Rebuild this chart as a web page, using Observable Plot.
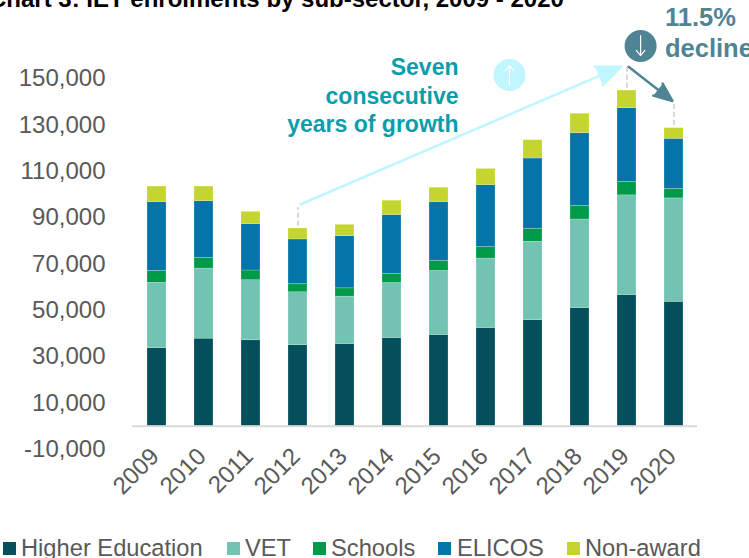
<!DOCTYPE html>
<html><head><meta charset="utf-8">
<script src="https://cdn.jsdelivr.net/npm/d3@7"></script>
<script src="https://cdn.jsdelivr.net/npm/@observablehq/plot@0.6"></script>
<style>
html,body{margin:0;padding:0;background:#fff;overflow:hidden;width:749px;height:558px;font-family:"Liberation Sans",Arial,sans-serif}
#chart{position:absolute;left:0;top:0}
#title{position:absolute;left:-11px;top:-13px;font-size:24px;font-weight:bold;color:#000;white-space:nowrap;line-height:24px}
.lg{position:absolute;top:535px;font-size:23.7px;color:#595959;line-height:27px;white-space:nowrap}
.sw{position:absolute;top:542px;width:13px;height:13px}
</style></head><body>
<div id="title">Chart 3: IET enrolments by sub-sector, 2009 - 2020</div>
<div id="chart"></div>
<div id="legend"></div>
<script>
const years = ["2009","2010","2011","2012","2013","2014","2015","2016","2017","2018","2019","2020"];
const seriesNames = ["Higher Education","VET","Schools","ELICOS","Non-award"];
const seriesColors = ["#034F5B","#72C3B2","#009A4A","#0575A9","#C4D52F"];
const higherEducation = [33700,37800,37100,35000,35500,38100,39400,42400,45800,51000,56600,53700];
const vet = [28200,30200,25900,22800,20400,23700,27600,29900,33800,38200,43000,44600];
const schools = [5100,4700,4200,3500,3600,4000,4400,5000,5600,5800,5800,4100];
const elicos = [29700,24400,20000,19300,22500,25300,25300,26700,30300,31400,31800,21600];
const nonAward = [6700,6300,5300,4700,4900,6200,6200,7000,7900,8400,7600,4600];
const yTicks = [-10000,10000,30000,50000,70000,90000,110000,130000,150000];
const legendTextX = [21,245,331,457,585];
const legendSwatchX = [3,227,313,438,567];

const columns = [higherEducation,vet,schools,elicos,nonAward];
const rows = [];
seriesNames.forEach((s,i)=>years.forEach((y,j)=>rows.push({year:y,series:s,value:columns[i][j]})));

const font = '"Liberation Sans",Arial,sans-serif';
const grey = "#D9D9D9", teal = "#4F8494", cyan = "#BFF6FF", growth = "#0A9DAA";

const plot = Plot.plot({
  width:749, height:525,
  marginLeft:132, marginRight:52, marginTop:78, marginBottom:76,
  style:{fontFamily:font, background:"transparent", overflow:"visible"},
  x:{domain:years, paddingInner:0.6, paddingOuter:0.3, label:null},
  y:{domain:[-10000,150000], label:null},
  color:{domain:seriesNames, range:seriesColors},
  marks:[
    Plot.axisY({ticks:yTicks, tickSize:0, tickPadding:27, fontSize:24, fill:"#595959", label:null,
      tickFormat:d=>d.toLocaleString("en-US")}),
    Plot.axisX({anchor:"bottom", tickSize:0, tickRotate:-45, fontSize:24, fill:"#595959", label:null, tickPadding:3, dx:-2}),
    Plot.barY(rows,{x:"year",y:"value",fill:"series",stroke:"#ffffff",strokeOpacity:0.35,strokeWidth:0.6}),
    Plot.ruleY([0],{stroke:grey,strokeWidth:2}),
    Plot.link([{x:"2012",a:86500,b:94500},{x:"2019",a:146000,b:155500},{x:"2020",a:130000,b:139500}],
      {x1:"x",x2:"x",y1:"a",y2:"b",stroke:grey,strokeWidth:2,strokeDasharray:"5,3"}),
    Plot.arrow([{a:"2012",b:"2019",p:95260,q:156250}],
      {x1:"a",x2:"b",y1:"p",y2:"q",stroke:cyan,fill:cyan,strokeWidth:2.5,headLength:16,headAngle:45,insetStart:3,insetEnd:6}),
    Plot.arrow([{a:"2019",b:"2020",p:155600,q:139800}],
      {x1:"a",x2:"b",y1:"p",y2:"q",stroke:teal,fill:teal,strokeWidth:2.5,headLength:16,headAngle:45,insetStart:2,insetEnd:2}),
    Plot.dot([{x:"2016",y:151500}],{x:"x",y:"y",dx:23.5,r:16,fill:cyan,stroke:null}),
    Plot.arrow([{x:"2016",a:147000,b:155600}],{x1:"x",x2:"x",y1:"a",y2:"b",dx:23.5,stroke:"#fff",strokeWidth:1.2,headLength:10,headAngle:80}),
    Plot.dot([{x:"2019",y:164000}],{x:"x",y:"y",dx:13.6,r:16,fill:teal,stroke:null}),
    Plot.arrow([{x:"2019",a:168500,b:159900}],{x1:"x",x2:"x",y1:"a",y2:"b",dx:13.6,stroke:"#fff",strokeWidth:1.2,headLength:10,headAngle:80}),
    Plot.text([{x:"2015",y:143000}],{x:"x",y:"y",dx:19.5,textAnchor:"end",text:()=>"Seven\nconsecutive\nyears of growth",
      fill:growth,fontSize:23,fontWeight:"bold",lineHeight:1.24}),
    Plot.text([{x:"2020",y:170050}],{x:"x",y:"y",dx:-9,textAnchor:"start",text:()=>"11.5%\ndecline",
      fill:teal,fontSize:25.5,fontWeight:"bold",lineHeight:1.216})
  ]
});
document.getElementById("chart").append(plot);

const lg = document.getElementById("legend");
seriesNames.forEach((s,i)=>{
  const sw=document.createElement("div");sw.className="sw";sw.style.left=legendSwatchX[i]+"px";sw.style.background=seriesColors[i];lg.append(sw);
  const t=document.createElement("div");t.className="lg";t.style.left=legendTextX[i]+"px";t.textContent=s;lg.append(t);
});
</script>
</body></html>
